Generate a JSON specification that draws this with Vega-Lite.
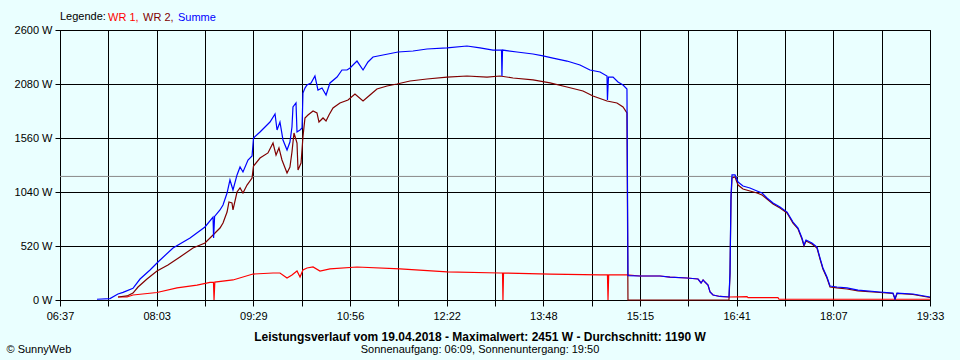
{
"$schema":"https://vega.github.io/schema/vega-lite/v6.json",
"width":870,"height":270,"autosize":"none",
"padding":{"left":60,"top":30,"right":30,"bottom":60},
"background":"#EAFFFF",
"config":{"view":{"stroke":"black","fill":"#EAFFFF"},"font":"Liberation Sans",
 "axisY":{"labelExpr":"datum.value + ' W'","grid":true,"gridColor":"black","gridOpacity":1,"gridWidth":1,"tickColor":"black","tickSize":5,"tickWidth":1,"domainColor":"black","labelColor":"black","labelFont":"Liberation Sans","labelFontSize":11,"labelPadding":3,"labelBaseline":"middle","titleAngle":0,"titleX":-54,"titleY":319,"titleAlign":"left","titleBaseline":"middle","titleFont":"Liberation Sans","titleFontSize":11,"titleFontWeight":"normal","titleColor":"black"}},
"title":{"text":"Leistungsverlauf vom 19.04.2018 - Maximalwert: 2451 W - Durchschnitt: 1190 W","subtitle":"Sonnenaufgang: 06:09, Sonnenuntergang: 19:50","orient":"bottom","anchor":"middle","dx":-15,"offset":-22,"font":"Liberation Sans","fontSize":12,"fontWeight":"bold","color":"black","subtitleFont":"Liberation Sans","subtitleFontSize":11,"subtitleColor":"black","subtitlePadding":0},
"datasets":{"pts":[
{"s":"WR 1","t":448.7,"w":29},{"s":"WR 1","t":456.8,"w":29},{"s":"WR 1","t":462.1,"w":48},{"s":"WR 1","t":483.5,"w":72},{"s":"WR 1","t":501.4,"w":116},{"s":"WR 1","t":519.2,"w":144},{"s":"WR 1","t":530.8,"w":169},{"s":"WR 1","t":533.9,"w":169},{"s":"WR 1","t":534.4,"w":0},{"s":"WR 1","t":535.1,"w":173},{"s":"WR 1","t":551.3,"w":193},{"s":"WR 1","t":569.1,"w":250},{"s":"WR 1","t":587.0,"w":260},{"s":"WR 1","t":593.2,"w":260},{"s":"WR 1","t":599.5,"w":212},{"s":"WR 1","t":603.9,"w":241},{"s":"WR 1","t":608.4,"w":279},{"s":"WR 1","t":611.1,"w":221},{"s":"WR 1","t":613.7,"w":289},{"s":"WR 1","t":617.3,"w":308},{"s":"WR 1","t":622.7,"w":318},{"s":"WR 1","t":628.9,"w":279},{"s":"WR 1","t":637.8,"w":299},{"s":"WR 1","t":661.9,"w":318},{"s":"WR 1","t":700.3,"w":299},{"s":"WR 1","t":742.2,"w":270},{"s":"WR 1","t":789.5,"w":260},{"s":"WR 1","t":791.7,"w":260},{"s":"WR 1","t":792.1,"w":0},{"s":"WR 1","t":792.6,"w":260},{"s":"WR 1","t":834.1,"w":250},{"s":"WR 1","t":878.7,"w":241},{"s":"WR 1","t":885.3,"w":241},{"s":"WR 1","t":885.8,"w":0},{"s":"WR 1","t":886.4,"w":241},{"s":"WR 1","t":902.7,"w":241},{"s":"WR 1","t":914.3,"w":231},{"s":"WR 1","t":932.2,"w":231},{"s":"WR 1","t":941.1,"w":221},{"s":"WR 1","t":956.3,"w":212},{"s":"WR 1","t":966.1,"w":202},{"s":"WR 1","t":968.8,"w":164},{"s":"WR 1","t":970.6,"w":193},{"s":"WR 1","t":972.3,"w":173},{"s":"WR 1","t":975.0,"w":144},{"s":"WR 1","t":976.8,"w":77},{"s":"WR 1","t":979.5,"w":48},{"s":"WR 1","t":985.7,"w":34},{"s":"WR 1","t":993.7,"w":29},{"s":"WR 1","t":1009.8,"w":32},{"s":"WR 1","t":1010.7,"w":22},{"s":"WR 1","t":1037.4,"w":22},{"s":"WR 1","t":1038.3,"w":7},{"s":"WR 1","t":1173,"w":7},
{"s":"WR 2","t":448.7,"w":29},{"s":"WR 2","t":456.8,"w":39},{"s":"WR 2","t":462.1,"w":67},{"s":"WR 2","t":466.6,"w":125},{"s":"WR 2","t":474.6,"w":202},{"s":"WR 2","t":483.5,"w":279},{"s":"WR 2","t":493.3,"w":337},{"s":"WR 2","t":504.0,"w":414},{"s":"WR 2","t":515.6,"w":501},{"s":"WR 2","t":526.3,"w":549},{"s":"WR 2","t":533.5,"w":626},{"s":"WR 2","t":539.7,"w":693},{"s":"WR 2","t":542.4,"w":741},{"s":"WR 2","t":546.0,"w":847},{"s":"WR 2","t":547.7,"w":944},{"s":"WR 2","t":550.4,"w":934},{"s":"WR 2","t":551.3,"w":867},{"s":"WR 2","t":554.9,"w":1040},{"s":"WR 2","t":557.6,"w":1079},{"s":"WR 2","t":560.2,"w":1030},{"s":"WR 2","t":563.8,"w":1107},{"s":"WR 2","t":568.3,"w":1175},{"s":"WR 2","t":569.6,"w":1290},{"s":"WR 2","t":575.4,"w":1367},{"s":"WR 2","t":582.5,"w":1416},{"s":"WR 2","t":587.0,"w":1512},{"s":"WR 2","t":589.7,"w":1396},{"s":"WR 2","t":592.3,"w":1464},{"s":"WR 2","t":595.0,"w":1348},{"s":"WR 2","t":599.5,"w":1223},{"s":"WR 2","t":602.1,"w":1281},{"s":"WR 2","t":603.9,"w":1425},{"s":"WR 2","t":605.7,"w":1608},{"s":"WR 2","t":608.4,"w":1512},{"s":"WR 2","t":609.3,"w":1252},{"s":"WR 2","t":612.0,"w":1319},{"s":"WR 2","t":613.7,"w":1570},{"s":"WR 2","t":615.5,"w":1753},{"s":"WR 2","t":618.2,"w":1781},{"s":"WR 2","t":622.7,"w":1820},{"s":"WR 2","t":626.2,"w":1801},{"s":"WR 2","t":628.0,"w":1714},{"s":"WR 2","t":631.6,"w":1753},{"s":"WR 2","t":634.3,"w":1724},{"s":"WR 2","t":636.9,"w":1781},{"s":"WR 2","t":640.5,"w":1849},{"s":"WR 2","t":646.7,"w":1897},{"s":"WR 2","t":653.9,"w":1926},{"s":"WR 2","t":660.1,"w":1984},{"s":"WR 2","t":667.3,"w":1916},{"s":"WR 2","t":673.5,"w":1974},{"s":"WR 2","t":679.7,"w":2032},{"s":"WR 2","t":688.7,"w":2061},{"s":"WR 2","t":697.6,"w":2080},{"s":"WR 2","t":709.2,"w":2109},{"s":"WR 2","t":724.3,"w":2128},{"s":"WR 2","t":742.2,"w":2147},{"s":"WR 2","t":760.0,"w":2157},{"s":"WR 2","t":777.9,"w":2147},{"s":"WR 2","t":789.5,"w":2157},{"s":"WR 2","t":801.1,"w":2138},{"s":"WR 2","t":818.9,"w":2119},{"s":"WR 2","t":834.1,"w":2090},{"s":"WR 2","t":849.2,"w":2051},{"s":"WR 2","t":863.5,"w":2013},{"s":"WR 2","t":872.4,"w":1964},{"s":"WR 2","t":884.9,"w":1916},{"s":"WR 2","t":893.8,"w":1897},{"s":"WR 2","t":899.2,"w":1859},{"s":"WR 2","t":902.7,"w":1801},{"s":"WR 2","t":903.6,"w":0},{"s":"WR 2","t":993.7,"w":0},{"s":"WR 2","t":994.6,"w":241},{"s":"WR 2","t":995.5,"w":963},{"s":"WR 2","t":996.4,"w":1175},{"s":"WR 2","t":999.1,"w":1184},{"s":"WR 2","t":1001.8,"w":1107},{"s":"WR 2","t":1006.2,"w":1069},{"s":"WR 2","t":1012.4,"w":1050},{"s":"WR 2","t":1018.7,"w":1030},{"s":"WR 2","t":1023.2,"w":1011},{"s":"WR 2","t":1027.6,"w":973},{"s":"WR 2","t":1033.0,"w":924},{"s":"WR 2","t":1039.2,"w":886},{"s":"WR 2","t":1045.5,"w":838},{"s":"WR 2","t":1050.8,"w":741},{"s":"WR 2","t":1055.3,"w":684},{"s":"WR 2","t":1058.8,"w":587},{"s":"WR 2","t":1060.6,"w":520},{"s":"WR 2","t":1062.4,"w":568},{"s":"WR 2","t":1067.7,"w":539},{"s":"WR 2","t":1072.2,"w":501},{"s":"WR 2","t":1074.9,"w":395},{"s":"WR 2","t":1077.5,"w":299},{"s":"WR 2","t":1081.1,"w":212},{"s":"WR 2","t":1083.8,"w":125},{"s":"WR 2","t":1090.0,"w":116},{"s":"WR 2","t":1098.9,"w":106},{"s":"WR 2","t":1108.8,"w":87},{"s":"WR 2","t":1128.4,"w":72},{"s":"WR 2","t":1140.0,"w":63},{"s":"WR 2","t":1141.8,"w":10},{"s":"WR 2","t":1143.6,"w":63},{"s":"WR 2","t":1157.8,"w":53},{"s":"WR 2","t":1173,"w":24},
{"s":"Summe","t":430.0,"w":7},{"s":"Summe","t":441.6,"w":14},{"s":"Summe","t":448.7,"w":58},{"s":"Summe","t":453.2,"w":74},{"s":"Summe","t":462.1,"w":113},{"s":"Summe","t":468.4,"w":202},{"s":"Summe","t":477.3,"w":289},{"s":"Summe","t":484.4,"w":366},{"s":"Summe","t":497.8,"w":501},{"s":"Summe","t":513.0,"w":597},{"s":"Summe","t":526.3,"w":703},{"s":"Summe","t":533.5,"w":799},{"s":"Summe","t":534.0,"w":597},{"s":"Summe","t":534.9,"w":805},{"s":"Summe","t":539.7,"w":867},{"s":"Summe","t":542.4,"w":915},{"s":"Summe","t":546.0,"w":1030},{"s":"Summe","t":548.6,"w":1156},{"s":"Summe","t":551.3,"w":1059},{"s":"Summe","t":554.9,"w":1204},{"s":"Summe","t":557.6,"w":1281},{"s":"Summe","t":560.2,"w":1233},{"s":"Summe","t":564.7,"w":1348},{"s":"Summe","t":568.3,"w":1387},{"s":"Summe","t":569.6,"w":1560},{"s":"Summe","t":575.4,"w":1618},{"s":"Summe","t":584.3,"w":1714},{"s":"Summe","t":588.8,"w":1791},{"s":"Summe","t":590.6,"w":1637},{"s":"Summe","t":593.2,"w":1714},{"s":"Summe","t":595.9,"w":1541},{"s":"Summe","t":599.5,"w":1444},{"s":"Summe","t":602.1,"w":1521},{"s":"Summe","t":603.9,"w":1666},{"s":"Summe","t":604.8,"w":1859},{"s":"Summe","t":607.5,"w":1897},{"s":"Summe","t":608.4,"w":1618},{"s":"Summe","t":611.1,"w":1637},{"s":"Summe","t":612.9,"w":1656},{"s":"Summe","t":613.7,"w":1993},{"s":"Summe","t":615.5,"w":2041},{"s":"Summe","t":617.3,"w":2070},{"s":"Summe","t":620.9,"w":2090},{"s":"Summe","t":624.4,"w":2157},{"s":"Summe","t":627.1,"w":2022},{"s":"Summe","t":630.7,"w":2041},{"s":"Summe","t":634.3,"w":1974},{"s":"Summe","t":637.8,"w":2090},{"s":"Summe","t":644.1,"w":2147},{"s":"Summe","t":648.5,"w":2215},{"s":"Summe","t":653.0,"w":2215},{"s":"Summe","t":655.7,"w":2234},{"s":"Summe","t":661.9,"w":2301},{"s":"Summe","t":667.3,"w":2215},{"s":"Summe","t":671.7,"w":2292},{"s":"Summe","t":676.2,"w":2340},{"s":"Summe","t":685.1,"w":2359},{"s":"Summe","t":698.5,"w":2388},{"s":"Summe","t":711.9,"w":2398},{"s":"Summe","t":724.3,"w":2417},{"s":"Summe","t":742.2,"w":2427},{"s":"Summe","t":760.0,"w":2446},{"s":"Summe","t":771.6,"w":2427},{"s":"Summe","t":783.2,"w":2407},{"s":"Summe","t":790.8,"w":2407},{"s":"Summe","t":791.2,"w":2157},{"s":"Summe","t":791.7,"w":2407},{"s":"Summe","t":804.6,"w":2388},{"s":"Summe","t":818.9,"w":2369},{"s":"Summe","t":827.8,"w":2350},{"s":"Summe","t":836.7,"w":2330},{"s":"Summe","t":849.2,"w":2301},{"s":"Summe","t":860.8,"w":2263},{"s":"Summe","t":869.7,"w":2215},{"s":"Summe","t":878.7,"w":2196},{"s":"Summe","t":884.9,"w":2157},{"s":"Summe","t":885.3,"w":1926},{"s":"Summe","t":886.2,"w":2147},{"s":"Summe","t":890.3,"w":2147},{"s":"Summe","t":894.7,"w":2099},{"s":"Summe","t":899.2,"w":2070},{"s":"Summe","t":902.7,"w":2032},{"s":"Summe","t":903.6,"w":234},{"s":"Summe","t":914.3,"w":231},{"s":"Summe","t":932.2,"w":231},{"s":"Summe","t":941.1,"w":221},{"s":"Summe","t":956.3,"w":212},{"s":"Summe","t":966.1,"w":202},{"s":"Summe","t":968.8,"w":164},{"s":"Summe","t":970.6,"w":193},{"s":"Summe","t":972.3,"w":173},{"s":"Summe","t":975.0,"w":144},{"s":"Summe","t":976.8,"w":77},{"s":"Summe","t":979.5,"w":48},{"s":"Summe","t":985.7,"w":34},{"s":"Summe","t":993.7,"w":29},{"s":"Summe","t":994.6,"w":260},{"s":"Summe","t":995.5,"w":1001},{"s":"Summe","t":996.4,"w":1204},{"s":"Summe","t":999.1,"w":1204},{"s":"Summe","t":1001.8,"w":1136},{"s":"Summe","t":1006.2,"w":1098},{"s":"Summe","t":1012.4,"w":1079},{"s":"Summe","t":1018.7,"w":1050},{"s":"Summe","t":1023.2,"w":1030},{"s":"Summe","t":1027.6,"w":982},{"s":"Summe","t":1033.0,"w":934},{"s":"Summe","t":1039.2,"w":896},{"s":"Summe","t":1045.5,"w":847},{"s":"Summe","t":1050.8,"w":751},{"s":"Summe","t":1055.3,"w":693},{"s":"Summe","t":1058.8,"w":597},{"s":"Summe","t":1060.6,"w":530},{"s":"Summe","t":1062.4,"w":578},{"s":"Summe","t":1067.7,"w":549},{"s":"Summe","t":1072.2,"w":510},{"s":"Summe","t":1074.9,"w":404},{"s":"Summe","t":1077.5,"w":308},{"s":"Summe","t":1081.1,"w":221},{"s":"Summe","t":1083.8,"w":135},{"s":"Summe","t":1090.0,"w":125},{"s":"Summe","t":1098.9,"w":116},{"s":"Summe","t":1108.8,"w":96},{"s":"Summe","t":1128.4,"w":77},{"s":"Summe","t":1140.0,"w":67},{"s":"Summe","t":1141.8,"w":10},{"s":"Summe","t":1143.6,"w":67},{"s":"Summe","t":1157.8,"w":58},{"s":"Summe","t":1173,"w":29}
]},
"layer":[
{"data":{"values":[{"avg":1190}]},"mark":{"type":"rule","color":"#8a8a8a","strokeWidth":1},
 "encoding":{"y":{"field":"avg","type":"quantitative","scale":{"domain":[0,2600],"nice":false},"axis":{"title":"© SunnyWeb","values":[0,520,1040,1560,2080,2600]}}}},
{"data":{"name":"pts"},
 "encoding":{
  "x":{"field":"t","type":"quantitative","scale":{"domain":[397,1173],"nice":false,"zero":false},
   "axis":{"title":null,"values":[397,440.1,483.2,526.3,569.4,612.6,655.7,698.8,741.9,785,828.1,871.2,914.3,957.4,1000.6,1043.7,1086.8,1129.9,1173],
    "labelExpr":"indexof([397,483.2,569.4,655.7,741.9,828.1,914.3,1000.6,1086.8,1173], datum.value) >= 0 ? ['06:37','08:03','09:29','10:56','12:22','13:48','15:15','16:41','18:07','19:33'][indexof([397,483.2,569.4,655.7,741.9,828.1,914.3,1000.6,1086.8,1173], datum.value)] : ''",
    "grid":true,"gridColor":"black","gridOpacity":1,"gridWidth":1,"tickColor":"black","tickSize":6,"tickWidth":1,"domainColor":"black","labelColor":"black","labelFont":"Liberation Sans","labelFontSize":11,"labelPadding":4,"labelFlush":false,"labelOverlap":false,"labelBound":false}},
  "y":{"field":"w","type":"quantitative","scale":{"domain":[0,2600],"nice":false},"axis":{"title":"© SunnyWeb","values":[0,520,1040,1560,2080,2600]}},
  "color":{"field":"s","type":"nominal","scale":{"domain":["WR 1","WR 2","Summe"],"range":["#FF0000","#800000","#0000FF"]},
   "legend":{"orient":"none","legendX":0,"legendY":-18,"direction":"horizontal","gridAlign":"none","title":"Legende:","titleOrient":"left","titleFontWeight":"normal","titleFont":"Liberation Sans","titleFontSize":11,"titleColor":"black","titlePadding":1,"labelFont":"Liberation Sans","labelFontSize":11,"symbolSize":0.01,"symbolStrokeWidth":0,"symbolOpacity":0,"labelOffset":-10,"columnPadding":3,
    "labelExpr":"datum.label == 'Summe' ? datum.label : datum.label + ','",
    "encode":{"labels":{"update":{"fill":{"scale":"color","field":"value"}}}}}}
 },
 "layer":[
  {"transform":[{"filter":"datum.s == 'WR 1'"}],"mark":{"type":"line","strokeWidth":1.2}},
  {"transform":[{"filter":"datum.s == 'WR 2'"}],"mark":{"type":"line","strokeWidth":1.2}},
  {"transform":[{"filter":"datum.s == 'Summe'"}],"mark":{"type":"line","strokeWidth":1.2}}
 ]}
]
}
